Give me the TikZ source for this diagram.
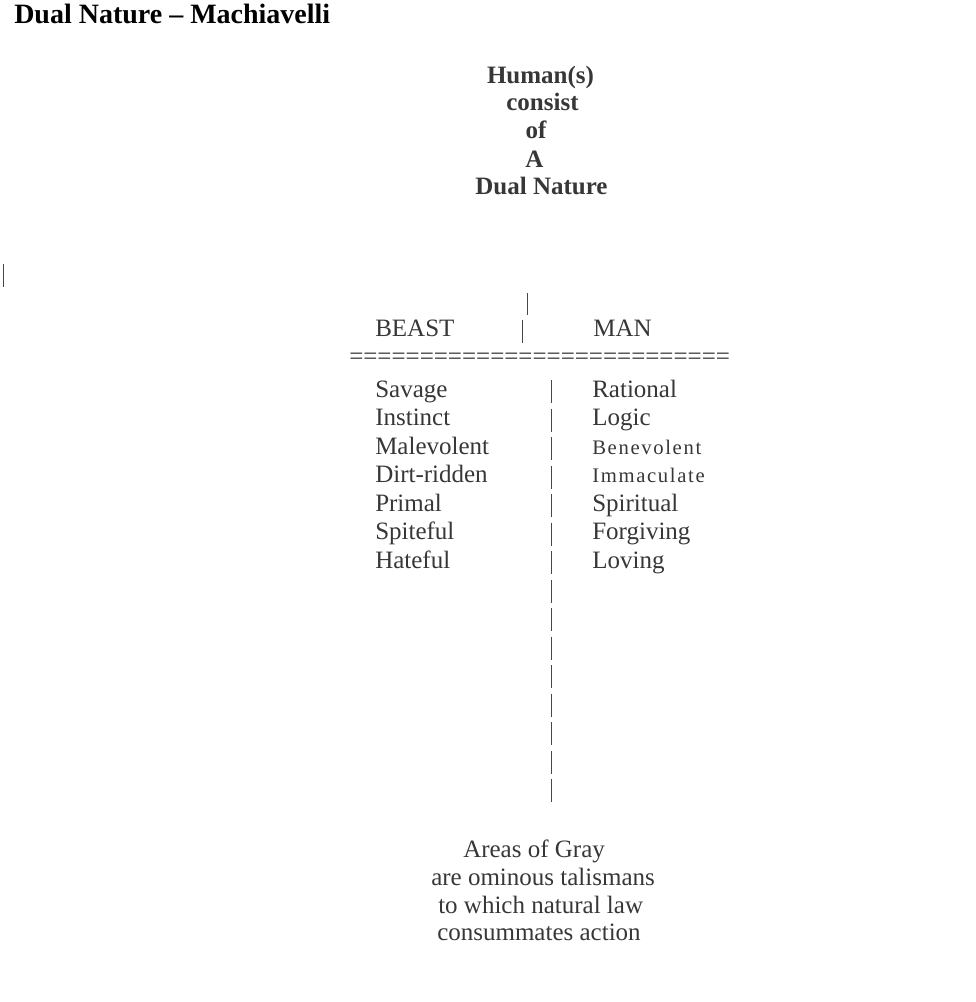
\documentclass[tikz,border=0pt]{standalone}
\usepackage{fontspec}
\setmainfont{Liberation Serif}
\newfontfamily\spacedfont[LetterSpace=8]{Liberation Serif}
\usepackage{tikz}
\definecolor{inkgray}{RGB}{55,55,55}
\definecolor{bargray}{RGB}{70,70,70}

\begin{document}
\begin{tikzpicture}[x=0.75pt,y=-0.75pt,
    txt/.style={inner sep=0pt,anchor=base west,text=inkgray,font=\fontsize{18.75}{22}\selectfont},
    midtxt/.style={txt,anchor=base},
    heavy/.style={midtxt,font=\fontsize{18.75}{22}\selectfont\bfseries},
    spaced/.style={txt,font=\fontsize{15.5}{18}\spacedfont},
    bar/.style={draw=bargray,line width=0.6pt}]
    \useasboundingbox (0,0) rectangle (975,1002);
    \node[inner sep=0pt,anchor=base west,font=\fontsize{21}{24}\selectfont\bfseries] (title) at (14,24) {Dual Nature -- Machiavelli};

    \node[heavy] (human) at (540.5,84) {Human(s)};
    \node[heavy] (consist) at (542.5,111) {consist};
    \node[heavy] (of) at (536,138) {of};
    \node[heavy] (a) at (534.5,167) {A};
    \node[heavy] (dual) at (541.5,194) {Dual Nature};

    \node[txt] (beast) at (375,336) {BEAST};
    \node[txt] (man) at (593,336) {MAN};
    \node[txt] (rule) at (349,364) {===========================};

    \node[txt] (savage) at (375,397) {Savage};
    \node[txt] (instinct) at (375,425.5) {Instinct};
    \node[txt] (malevolent) at (375,454) {Malevolent};
    \node[txt] (dirt) at (375,482.5) {Dirt-ridden};
    \node[txt] (primal) at (375,511) {Primal};
    \node[txt] (spiteful) at (375,539.5) {Spiteful};
    \node[txt] (hateful) at (375,568) {Hateful};

    \node[txt] (rational) at (592,397) {Rational};
    \node[txt] (logic) at (592,425.5) {Logic};
    \node[spaced] (benevolent) at (592,454) {Benevolent};
    \node[spaced] (immaculate) at (592,482.5) {Immaculate};
    \node[txt] (spiritual) at (592,511) {Spiritual};
    \node[txt] (forgiving) at (592,539.5) {Forgiving};
    \node[txt] (loving) at (592,568) {Loving};

    \draw[bar] (3,264) -- (3,287) (527,293) -- (527,315) (522,320) -- (522,343);
    \draw[bar] (551,380) -- (551,403) (551,408.5) -- (551,431.5) (551,437) -- (551,460) (551,465.5) -- (551,488.5) (551,494) -- (551,517) (551,522.5) -- (551,545.5) (551,551) -- (551,574) (551,579.5) -- (551,602.5) (551,608) -- (551,631) (551,636.5) -- (551,659.5) (551,665) -- (551,688) (551,693.5) -- (551,716.5) (551,722) -- (551,745) (551,750.5) -- (551,773.5) (551,779) -- (551,802);

    \node[txt] (gray) at (463,857) {Areas of Gray};
    \node[txt] (ominous) at (431,885) {are ominous talismans};
    \node[txt] (natural) at (438,913) {to which natural law};
    \node[txt] (action) at (437,940) {consummates action};
  \end{tikzpicture}
\end{document}
